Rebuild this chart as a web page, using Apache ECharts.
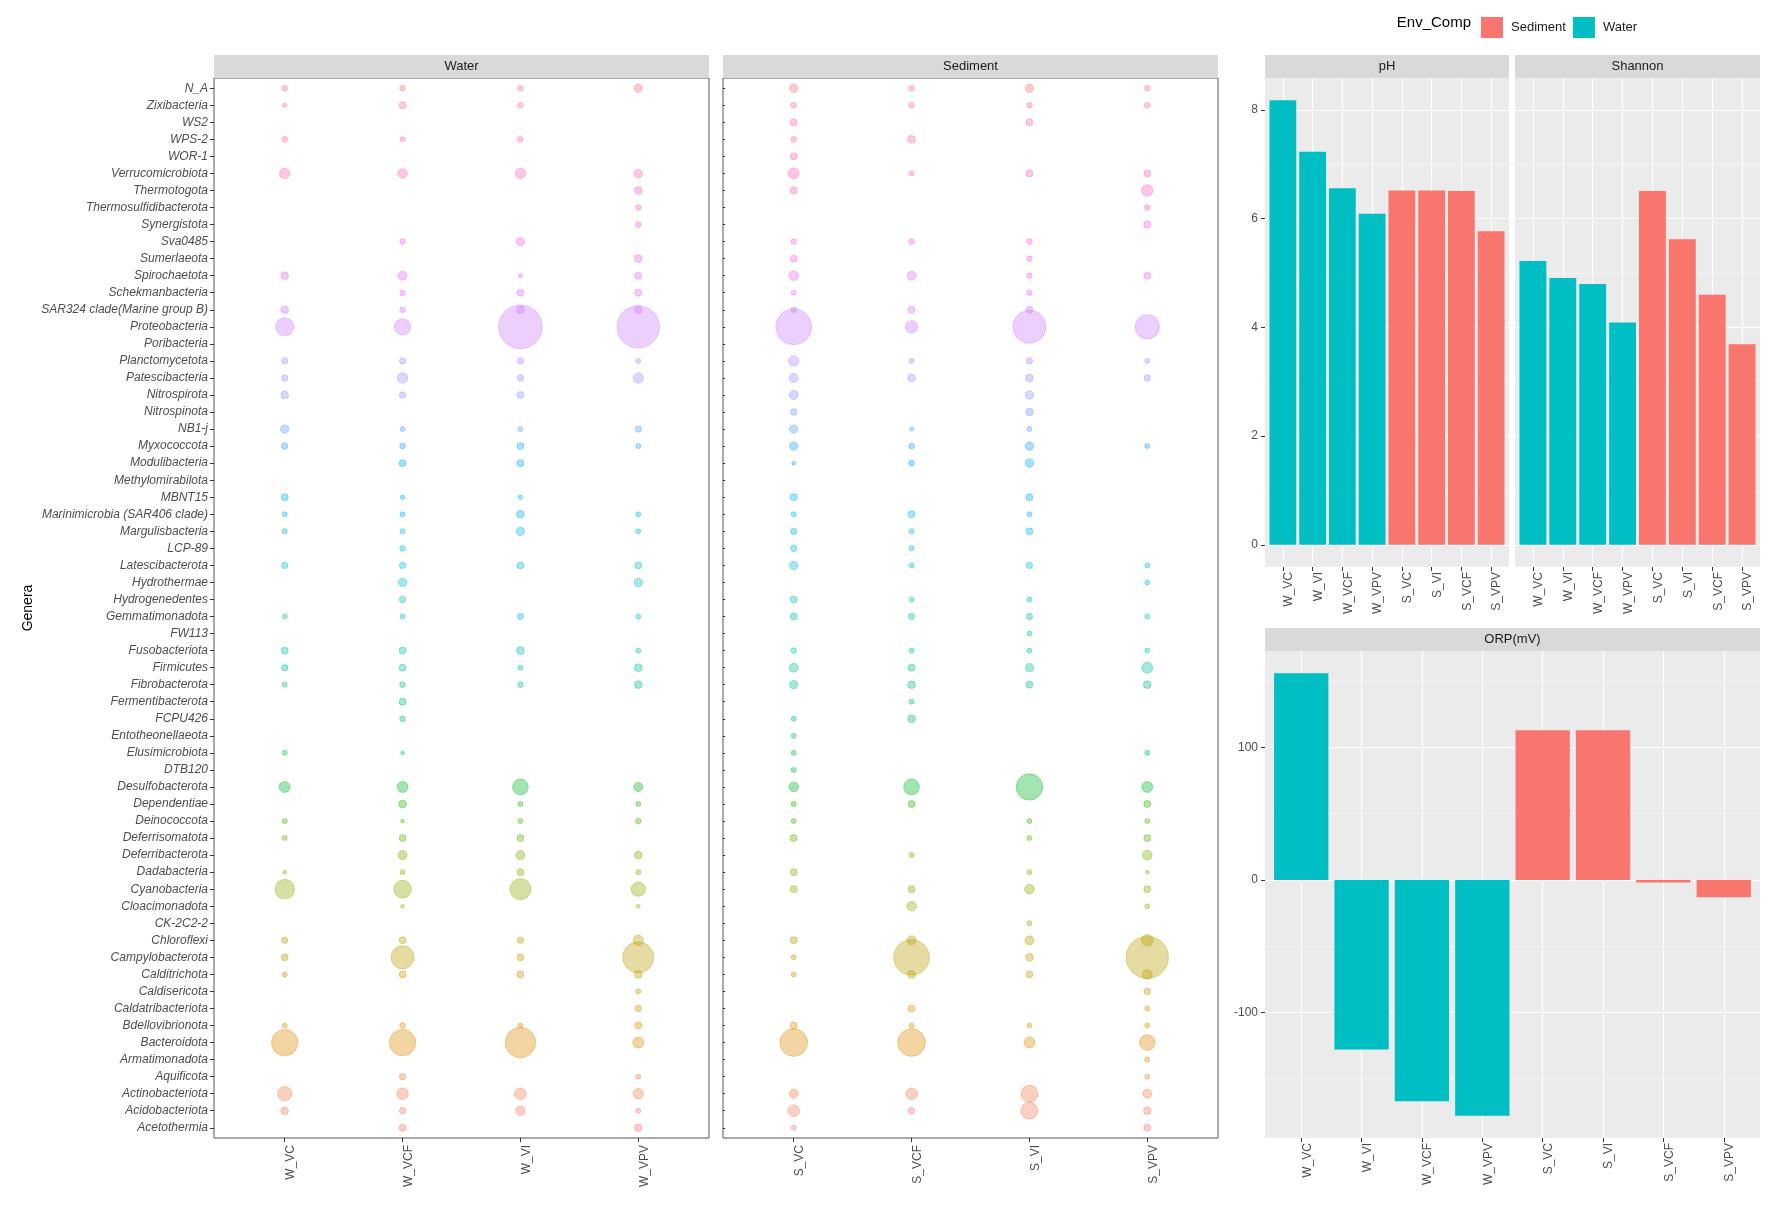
<!DOCTYPE html>
<html><head><meta charset="utf-8">
<script src="https://cdn.jsdelivr.net/npm/echarts@6/dist/echarts.min.js"></script>
<style>html,body{margin:0;padding:0;background:#fff}#c{width:1772px;height:1206px}</style>
</head><body><div id="c"></div>
<script>
// ---------- data ----------
const genera = ["N_A","Zixibacteria","WS2","WPS-2","WOR-1","Verrucomicrobiota","Thermotogota","Thermosulfidibacterota","Synergistota","Sva0485",
"Sumerlaeota","Spirochaetota","Schekmanbacteria","SAR324 clade(Marine group B)","Proteobacteria","Poribacteria","Planctomycetota","Patescibacteria","Nitrospirota","Nitrospinota",
"NB1-j","Myxococcota","Modulibacteria","Methylomirabilota","MBNT15","Marinimicrobia (SAR406 clade)","Margulisbacteria","LCP-89","Latescibacterota","Hydrothermae",
"Hydrogenedentes","Gemmatimonadota","FW113","Fusobacteriota","Firmicutes","Fibrobacterota","Fermentibacterota","FCPU426","Entotheonellaeota","Elusimicrobiota",
"DTB120","Desulfobacterota","Dependentiae","Deinococcota","Deferrisomatota","Deferribacterota","Dadabacteria","Cyanobacteria","Cloacimonadota","CK-2C2-2",
"Chloroflexi","Campylobacterota","Calditrichota","Caldisericota","Caldatribacteriota","Bdellovibrionota","Bacteroidota","Armatimonadota","Aquificota","Actinobacteriota",
"Acidobacteriota","Acetothermia"];

const waterSamples = ["W_VC","W_VCF","W_VI","W_VPV"];
const sedimentSamples = ["S_VC","S_VCF","S_VI","S_VPV"];

// relative abundance (%), same order as genera (top to bottom); 0 = absent
const W_VC = [0.44,0.23,0,0.44,0,1.8,0,0,0,0, 0,0.91,0,0.91,6.1,0,0.58,0.58,0.91,0, 1.1,0.58,0,0,0.73,0.33,0.33,0,0.58,0,
  0,0.33,0,0.73,0.58,0.33,0,0,0,0.33, 0,2.0,0,0.33,0.33,0,0.15,7.1,0,0, 0.58,0.73,0.33,0,0,0.33,13.1,0,0,3.6, 0.91,0];
const W_VCF = [0.44,0.73,0,0.33,0,1.5,0,0,0,0.44, 0,1.3,0.44,0.44,4.8,0,0.58,1.8,0.58,0, 0.33,0.44,0.73,0,0.23,0.33,0.33,0.44,0.58,1.1,
  0.58,0.33,0,0.73,0.73,0.44,0.73,0.44,0,0.15, 0,2.0,0.91,0.15,0.73,1.3,0.33,5.7,0.15,0, 0.73,9.9,0.73,0,0,0.44,13.1,0,0.58,2.3, 0.58,0.73];
const W_VI = [0.44,0.44,0,0.44,0,1.8,0,0,0,1.1, 0,0.23,0.73,0.91,37.2,0,0.58,0.58,0.73,0, 0.33,0.73,0.73,0,0.23,0.91,1.1,0,0.73,0,
  0,0.58,0,0.91,0.33,0.44,0,0,0,0, 0,4.4,0.33,0.33,0.73,1.3,0.73,8.2,0,0, 0.58,0.73,0.73,0,0,0.33,17.6,0,0,2.3, 1.5,0];
const W_VPV = [1.1,0,0,0,0,1.1,0.91,0.44,0.44,0, 0.91,0.73,0.73,0.91,34.9,0,0.33,1.8,0,0, 0.58,0.33,0,0,0,0.33,0.33,0,0.73,1.1,
  0,0.33,0,0.33,0.91,0.91,0,0,0,0, 0,1.3,0.33,0.44,0,0.91,0.33,3.6,0.15,0, 1.8,18.4,0.91,0.33,0.58,0.73,2.0,0,0.33,1.8, 0.33,0.91];
const S_VC = [1.1,0.44,0.73,0.44,0.73,2.0,0.73,0,0,0.44, 0.73,1.5,0.33,0.44,24.5,0,1.8,1.3,1.3,0.58, 1.1,1.1,0.15,0,0.73,0.33,0.58,0.58,1.1,0,
  0.73,0.73,0,0.44,1.3,1.1,0,0.33,0.33,0.33, 0.33,1.5,0.33,0.33,0.73,0,0.73,0.73,0,0, 0.73,0.33,0.33,0,0,0.73,14.5,0,0,1.3, 2.3,0.33];
const S_VCF = [0.44,0.44,0,0.91,0,0.33,0,0,0,0.44, 0,1.3,0,0.73,2.6,0,0.33,0.91,0,0, 0.23,0.44,0.44,0,0,0.73,0.33,0.33,0.33,0,
  0.33,0.58,0,0.33,0.73,0.91,0.33,0.91,0,0, 0,4.4,0.73,0,0,0.33,0,0.73,1.5,0, 1.3,24.5,0.91,0,0.73,0.33,14.5,0,0,2.3, 0.58,0];
const S_VI = [1.1,0.44,0.73,0,0,0.73,0,0,0,0.44, 0.44,0.44,0.44,0.73,20.9,0,0.58,0.91,1.1,0.91, 0.33,1.1,1.1,0,0.73,0.33,0.73,0,0.58,0,
  0.33,0.58,0.33,0.33,1.1,0.73,0,0,0,0, 0,13.1,0,0.33,0.33,0,0.33,1.5,0,0.33, 1.3,0.91,0.73,0,0,0.33,2.0,0,0,5.2, 5.2,0];
const S_VPV = [0.44,0.44,0,0,0,0.73,2.3,0.44,0.73,0, 0,0.73,0,0,11.1,0,0.33,0.58,0,0, 0,0.33,0,0,0,0,0,0,0.33,0.33,
  0,0.33,0,0.33,2.0,0.91,0,0,0,0.33, 0,2.0,0.73,0.33,0.73,1.5,0.15,0.73,0.33,0, 2.3,34.9,1.5,0.58,0.33,0.33,4.4,0.33,0.33,1.3, 0.91,0.73];

const barSamples = ["W_VC","W_VI","W_VCF","W_VPV","S_VC","S_VI","S_VCF","S_VPV"];
const barEnv = ["Water","Water","Water","Water","Sediment","Sediment","Sediment","Sediment"];
const pH = [8.18,7.23,6.56,6.09,6.52,6.52,6.51,5.77];
const shannon = [5.22,4.91,4.80,4.09,6.51,5.62,4.60,3.69];
const orp = [156,-128,-167,-178,113,113,-2,-13];

const phTicks = [0,2,4,6,8];
const orpTicks = [-100,0,100];
const legendLevels = ["Sediment","Water"];

// ---------- styling helpers ----------
const FONT = "'Liberation Sans', Arial, sans-serif";
const envColor = {Sediment:"#F8766D", Water:"#00BFC4"};

function hcl(h, c, l) {
  const hr = h * Math.PI / 180;
  const U = c * Math.cos(hr), V = c * Math.sin(hr);
  const WY = 100, Wu = 0.1978398, Wv = 0.4683363;
  const Y = WY * (l > 7.999592 ? Math.pow((l + 16) / 116, 3) : l / 903.3);
  const u = U / (13 * l) + Wu, v = V / (13 * l) + Wv;
  const X = 9 * Y * u / (4 * v);
  const Z = -X / 3 - 5 * Y + 3 * Y / v;
  const g = t => t > 0.00304 ? 1.055 * Math.pow(t, 1 / 2.4) - 0.055 : 12.92 * t;
  const cl = t => Math.max(0, Math.min(255, Math.round(255 * g(t))));
  return [cl((3.240479 * X - 1.537150 * Y - 0.498535 * Z) / WY),
          cl((-0.969256 * X + 1.875992 * Y + 0.041556 * Z) / WY),
          cl((0.055648 * X - 0.204043 * Y + 1.057311 * Z) / WY)];
}
const nG = genera.length;
function genusRGB(idx) { // factor level = position from the bottom
  const level = nG - 1 - idx;
  return hcl(15 + 360 * level / nG, 100, 65);
}
const rgba = (c, a) => `rgba(${c[0]},${c[1]},${c[2]},${a})`;
const bubbleSize = v => 1 + 7 * Math.sqrt(v[2]);

function bubbleData(sampleArrays) {
  const out = [];
  sampleArrays.forEach((arr, j) => {
    arr.forEach((v, i) => {
      if (v > 0) {
        const c = genusRGB(i);
        out.push({ value: [j, i, v], itemStyle: { color: rgba(c, 0.45), borderColor: rgba(c, 0.6), borderWidth: 0.8 } });
      }
    });
  });
  return out;
}

function expandRange(vals) {
  const lo = Math.min(0, ...vals), hi = Math.max(0, ...vals);
  const s = hi - lo;
  return [lo - 0.05 * s, hi + 0.05 * s];
}
function minorOf(ticks, lo, hi) {
  const s = ticks[1] - ticks[0], out = [];
  for (let i = -1; i < ticks.length; i++) { const m = ticks[0] + (i + 0.5) * s; if (m > lo && m < hi) out.push(m); }
  return out;
}
const topRange = expandRange(pH.concat(shannon));
const orpRange = expandRange(orp);
const idxG = genera.map((_, i) => i);
const idxW = waterSamples.map((_, i) => i);
const idxB = barSamples.map((_, i) => i);

const axisTxt = { color: "#4D4D4D", fontSize: 12, fontFamily: FONT };
const tickStyle = { color: "#333", width: 1 };
const noLine = { show: false, onZero: false };

function bubbleX(gi, names) {
  return { type: "value", gridIndex: gi, min: -0.6, max: names.length - 0.4,
    axisLine: noLine, splitLine: { show: false },
    axisTick: { show: true, customValues: idxW, length: 4, lineStyle: tickStyle },
    axisLabel: Object.assign({ customValues: idxW, rotate: 90, margin: 7, verticalAlign: "top", formatter: v => names[Math.round(v)] }, axisTxt) };
}
function bubbleY(gi, showLabels) {
  return { type: "value", gridIndex: gi, min: -0.6, max: nG - 0.4, inverse: true,
    axisLine: noLine, splitLine: { show: false },
    axisTick: { show: true, inside: !showLabels, customValues: idxG, length: showLabels ? 4 : 2, lineStyle: tickStyle },
    axisLabel: Object.assign({ show: showLabels, customValues: idxG, margin: 6, fontStyle: "italic", formatter: v => genera[Math.round(v)] }, axisTxt) };
}
function barX(gi) {
  return { type: "value", gridIndex: gi, min: -0.6, max: barSamples.length - 0.4,
    axisLine: noLine, splitLine: { show: false },
    axisTick: { show: true, customValues: idxB, length: 4, lineStyle: tickStyle },
    axisLabel: Object.assign({ customValues: idxB, rotate: 90, margin: 5, verticalAlign: "top", formatter: v => barSamples[Math.round(v)] }, axisTxt) };
}
function barY(gi, range, ticks, show) {
  return { type: "value", gridIndex: gi, min: range[0], max: range[1],
    axisLine: noLine, splitLine: { show: false },
    axisTick: { show: show, customValues: ticks, length: 4, lineStyle: tickStyle },
    axisLabel: Object.assign({ show: show, customValues: ticks, margin: 7 }, axisTxt) };
}
function gridLines(ai, range, ticks) {
  const minor = minorOf(ticks, range[0], range[1]);
  const ls = w => ({ color: "#FFFFFF", width: w, type: "solid" });
  return { type: "line", xAxisIndex: ai, yAxisIndex: ai, data: [], silent: true, z: 1,
    markLine: { silent: true, symbol: ["none", "none"], animation: false, label: { show: false }, z: 1,
      emphasis: { disabled: true },
      data: minor.map(v => ({ yAxis: v, lineStyle: ls(0.6) }))
        .concat(ticks.map(v => ({ yAxis: v, lineStyle: ls(1.2) })))
        .concat(idxB.map(v => ({ xAxis: v, lineStyle: ls(1.2) }))) } };
}
function barSeries(ai, vals) {
  return { type: "bar", xAxisIndex: ai, yAxisIndex: ai, z: 3, barWidth: "90%",
    data: vals.map((v, i) => ({ value: [i, v], itemStyle: { color: envColor[barEnv[i]] } })) };
}

const G = {
  water:    { left: 214, top: 78, width: 495, height: 1060 },
  sediment: { left: 723, top: 78, width: 495, height: 1060 },
  ph:       { left: 1265, top: 78, width: 244, height: 489 },
  shannon:  { left: 1515, top: 78, width: 245, height: 489 },
  orp:      { left: 1265, top: 651, width: 495, height: 487 }
};
const STRIP_H = 23;
function strip(g, label) {
  return [
    { type: "rect", shape: { x: g.left, y: g.top - STRIP_H, width: g.width, height: STRIP_H }, style: { fill: "#D9D9D9" }, z: 10 },
    { type: "text", x: g.left + g.width / 2, y: g.top - STRIP_H / 2, z: 11,
      style: { text: label, fill: "#1A1A1A", font: "13px " + FONT, align: "center", verticalAlign: "middle", textAlign: "center", textVerticalAlign: "middle" } }
  ];
}

const chart = echarts.init(document.getElementById("c"), null, { renderer: "canvas" });
chart.setOption({
  backgroundColor: "#FFFFFF",
  animation: false,
  textStyle: { fontFamily: FONT },
  grid: [
    Object.assign({ show: true, backgroundColor: "#FFFFFF", borderColor: "#555555", borderWidth: 1 }, G.water),
    Object.assign({ show: true, backgroundColor: "#FFFFFF", borderColor: "#555555", borderWidth: 1 }, G.sediment),
    Object.assign({ show: true, backgroundColor: "#EBEBEB", borderWidth: 0 }, G.ph),
    Object.assign({ show: true, backgroundColor: "#EBEBEB", borderWidth: 0 }, G.shannon),
    Object.assign({ show: true, backgroundColor: "#EBEBEB", borderWidth: 0 }, G.orp)
  ],
  xAxis: [bubbleX(0, waterSamples), bubbleX(1, sedimentSamples), barX(2), barX(3), barX(4)],
  yAxis: [bubbleY(0, true), bubbleY(1, false),
          barY(2, topRange, phTicks, true), barY(3, topRange, phTicks, false), barY(4, orpRange, orpTicks, true)],
  legend: { data: legendLevels, left: 1476, top: 12, icon: "rect", itemWidth: 22, itemHeight: 21, itemGap: 7,
            selectedMode: false, textStyle: { fontSize: 13, color: "#1A1A1A", fontFamily: FONT, padding: [0, 0, 0, 3] } },
  series: [
    { name: "Sediment", type: "scatter", xAxisIndex: 0, yAxisIndex: 0, data: [], itemStyle: { color: envColor.Sediment, opacity: 1 } },
    { name: "Water", type: "scatter", xAxisIndex: 0, yAxisIndex: 0, data: [], itemStyle: { color: envColor.Water, opacity: 1 } },
    { type: "scatter", xAxisIndex: 0, yAxisIndex: 0, symbolSize: bubbleSize,
      data: bubbleData([W_VC, W_VCF, W_VI, W_VPV]) },
    { type: "scatter", xAxisIndex: 1, yAxisIndex: 1, symbolSize: bubbleSize,
      data: bubbleData([S_VC, S_VCF, S_VI, S_VPV]) },
    gridLines(2, topRange, phTicks), gridLines(3, topRange, phTicks), gridLines(4, orpRange, orpTicks),
    barSeries(2, pH), barSeries(3, shannon), barSeries(4, orp)
  ],
  graphic: [].concat(
    strip(G.water, "Water"), strip(G.sediment, "Sediment"), strip(G.ph, "pH"),
    strip(G.shannon, "Shannon"), strip(G.orp, "ORP(mV)"),
    [
      { type: "text", x: 28, y: G.water.top + G.water.height / 2, rotation: Math.PI / 2,
        style: { text: "Genera", fill: "#000", font: "14px " + FONT, align: "center", verticalAlign: "middle", textAlign: "center", textVerticalAlign: "middle" } },
      { type: "text", x: 1471, y: 23,
        style: { text: "Env_Comp", fill: "#000", font: "15px " + FONT, align: "right", verticalAlign: "middle", textAlign: "right", textVerticalAlign: "middle" } }
    ])
});
</script>
</body></html>
